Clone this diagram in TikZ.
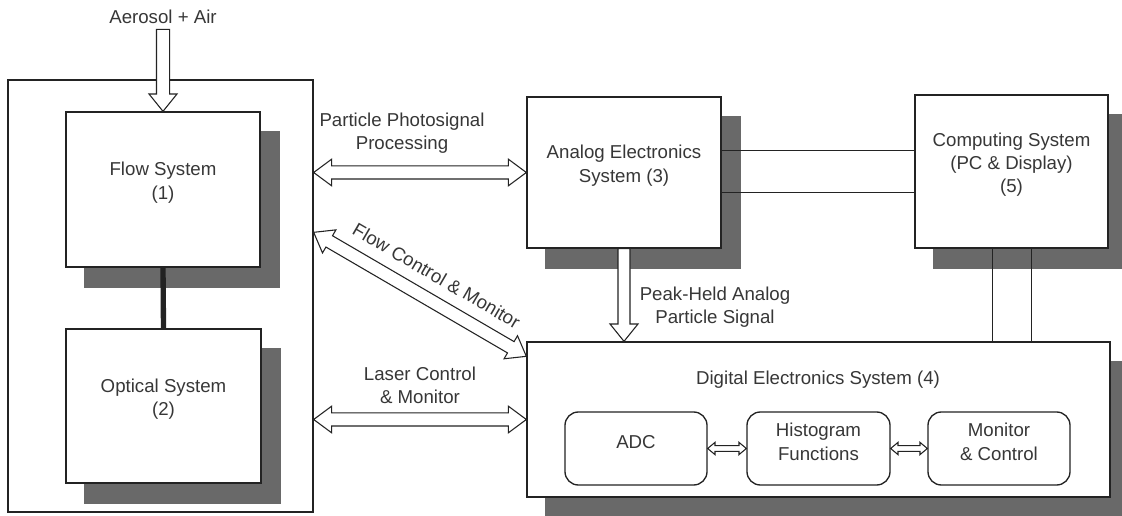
\documentclass[tikz,border=0pt]{standalone}
\usepackage{fontspec}
\setmainfont{Liberation Sans}
\usetikzlibrary{calc,fit}
\pgfdeclarelayer{back}\pgfdeclarelayer{bg}
\pgfsetlayers{back,bg,main}
\definecolor{linec}{RGB}{35,35,35}
\definecolor{txtc}{RGB}{55,55,55}
\definecolor{shadc}{RGB}{105,105,105}
\tikzset{
 txt/.style={text=txtc, font=\fontsize{14}{17.5}\selectfont, align=center, inner sep=1pt},
 box/.style={txt, draw=linec, fill=white, line width=1pt, inner sep=0pt},
 outerbox/.style={txt, draw=linec, line width=1pt, inner sep=0pt},
 rbox/.style={box, rounded corners=10pt},
 harrow/.style={draw=linec, fill=white, line width=0.8pt, line join=miter},
 shad/.style={fill=shadc},
 link/.style={draw=linec, line width=0.8pt},
}
% hollow double arrow: #1 A, #2 B, #3 shaft half width, #4 head half width, #5 head length
\newcommand\hdarrow[5]{%
 \coordinate (ha1) at ($(#1)!#5!(#2)$);
 \coordinate (hb1) at ($(#2)!#5!(#1)$);
 \draw[harrow] (#1) -- ($(ha1)!#4!90:(#2)$) -- ($(ha1)!#3!90:(#2)$)
   -- ($(hb1)!#3!-90:(#1)$) -- ($(hb1)!#4!-90:(#1)$) -- (#2)
   -- ($(hb1)!#4!90:(#1)$) -- ($(hb1)!#3!90:(#1)$)
   -- ($(ha1)!#3!-90:(#2)$) -- ($(ha1)!#4!-90:(#2)$) -- cycle;
}
% hollow single arrow: #1 tail, #2 tip
\newcommand\hsarrow[5]{%
 \coordinate (hb1) at ($(#2)!#5!(#1)$);
 \draw[harrow] ($(#1)!#3!90:(#2)$) -- ($(hb1)!#3!-90:(#1)$) -- ($(hb1)!#4!-90:(#1)$)
   -- (#2) -- ($(hb1)!#4!90:(#1)$) -- ($(hb1)!#3!90:(#1)$) -- ($(#1)!#3!-90:(#2)$) -- cycle;
}
\newcommand\boxshadow[1]{%
 \begin{pgfonlayer}{bg}
 \fill[shad] ([shift={(19,20)}]#1.north west) rectangle ([shift={(19,20)}]#1.south east);
 \end{pgfonlayer}}
\begin{document}
\begin{tikzpicture}[x=0.75pt,y=-0.75pt]
\useasboundingbox (0,0) rectangle (1122,516);
\begin{pgfonlayer}{back}\fill[white] (0,0) rectangle (1122,516);\end{pgfonlayer}

% boxes
\node[outerbox, fit={(8,80)(313,512)}] (outer) {};
\node[box, fit={(66,112)(260,267)}] (flow) {Flow System\\(1)};
\node[box, fit={(66,329)(261,483)}] (optical) {Optical System\\(2)};
\node[box, fit={(527,97)(721,248)}] (analog) {Analog Electronics\\System (3)};
\node[box, fit={(915,95)(1108,248)}] (computing) {Computing System\\(PC \& Display)\\(5)};
\node[box, fit={(527,342)(1110,497)}] (digital) {};
\node[rbox, fit={(565,412)(707,485)}] (adc) {ADC};
\node[rbox, fit={(747,412)(890,485)}] (hist) {Histogram\\Functions};
\node[rbox, fit={(928,412)(1070,485)}] (mon) {Monitor\\\& Control};

\boxshadow{flow}
\boxshadow{optical}
\boxshadow{analog}
\boxshadow{computing}
\boxshadow{digital}

% labels
\node[txt] (dtitle) at (818,380) {Digital Electronics System (4)};
\node[txt] (aerosol) at (163,17) {Aerosol + Air};
\node[txt] (pplabel) at (402,133) {Particle Photosignal\\Processing};
\node[txt] (lclabel) at (420,385) {Laser Control\\\& Monitor};
\node[txt] (phlabel) at (715,307) {Peak-Held Analog\\Particle Signal};

% flow -- optical
\draw[draw=linec, line width=4pt] (flow.south) -- (optical.north);

% aerosol inlet
\coordinate (aer) at ($(flow.north)+(0,-82)$);
\hsarrow{aer}{flow.north}{4.9pt}{10.5pt}{13pt}

% photosignal
\coordinate (pp1) at (outer.east |- analog.west);
\hdarrow{pp1}{analog.west}{4.9pt}{10pt}{13.5pt}

% laser control
\coordinate (lc1) at (outer.east |- digital.west);
\hdarrow{lc1}{digital.west}{4.9pt}{10pt}{13.5pt}

% flow control
\coordinate (fc1) at ($(outer.north east)+(0,153)$);
\coordinate (fc2) at ($(digital.north west)+(0,15)$);
\hdarrow{fc1}{fc2}{4.9pt}{10pt}{13.5pt}
\path (fc1) -- node[txt, sloped, above=12pt, pos=0.52] (fclabel) {Flow Control \& Monitor} (fc2);

% peak held
\coordinate (ph2) at (analog.south |- digital.north);
\hsarrow{analog.south}{ph2}{4.5pt}{10.5pt}{13pt}

% analog -- computing
\coordinate (l1) at ($(analog.north east)+(0,54)$);
\coordinate (l2) at ($(analog.north east)+(0,96)$);
\draw[link] (l1) -- (l1 -| computing.west);
\draw[link] (l2) -- (l2 -| computing.west);

% computing -- digital
\coordinate (v1) at ($(computing.south west)+(78,0)$);
\coordinate (v2) at ($(computing.south west)+(117,0)$);
\draw[link] (v1) -- (v1 |- digital.north);
\draw[link] (v2) -- (v2 |- digital.north);

% internal small arrows
\hdarrow{adc.east}{hist.west}{2.2pt}{4.6pt}{5.5pt}
\hdarrow{hist.east}{mon.west}{2.2pt}{4.6pt}{5.5pt}
\end{tikzpicture}
\end{document}
